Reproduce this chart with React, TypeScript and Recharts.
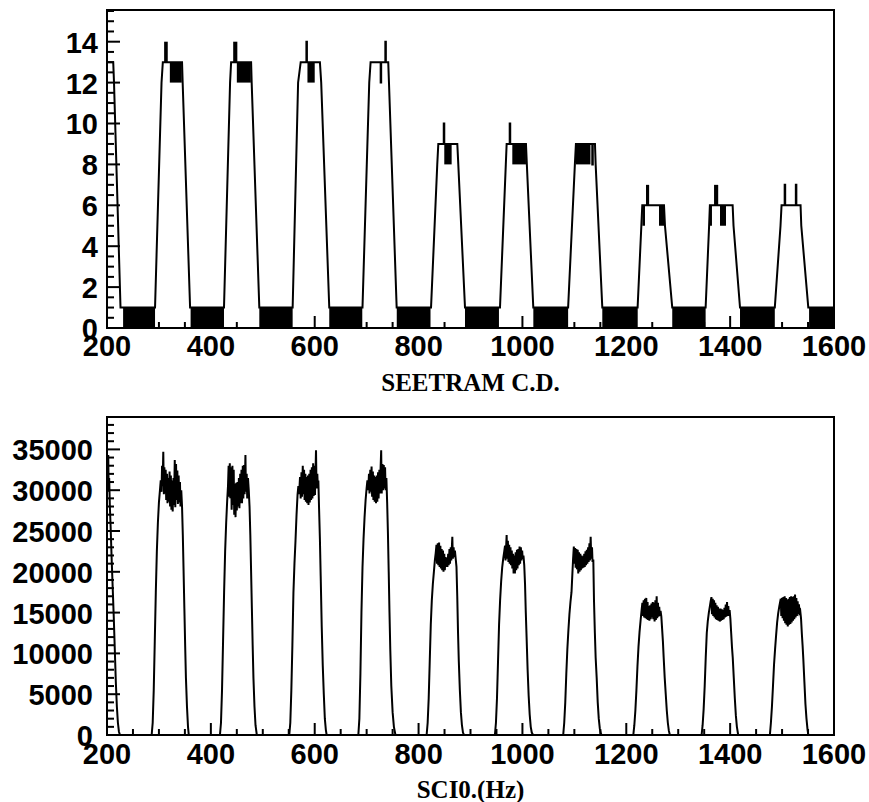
import React from "react";
import { ComposedChart, Line, XAxis, YAxis, ReferenceArea, Label } from "recharts";

// ------------------------------------------------------------
// Beam spill monitor: SEETRAM counts (top) and SCI0 rate (bottom)
// ------------------------------------------------------------

const SANS = "'Liberation Sans', Arial, Helvetica, sans-serif";
const SERIF = "'Liberation Serif', 'Times New Roman', serif";

// shared time axis
const TIME_MIN = 200;
const TIME_MAX = 1600;
const timeLabels = [200, 400, 600, 800, 1000, 1200, 1400, 1600];

// SEETRAM counts per bin, histogram outline [t, count]
const seetramOutline: [number, number][] = [
  [200, 13], [212, 13], [213.5, 12], [226, 1],
  [292.5, 1], [305, 12], [307.5, 13], [344.5, 13], [345.7, 12], [360, 1],
  [425.3, 1], [437, 12], [439, 13], [477.5, 13], [478.6, 12], [493.3, 1],
  [557.5, 1], [568, 12], [573, 13], [584, 13], [584, 14], [585, 14], [585, 13], [610, 13], [612.5, 12], [628, 1],
  [692, 1], [705, 12], [707.6, 13], [727, 13], [727, 12], [728, 12], [728, 13], [736, 13], [736, 14], [737, 14], [737, 13], [741.6, 13], [743, 12], [757.8, 1],
  [824, 1], [836, 8], [838, 9], [848.5, 9], [848.5, 10], [849.5, 10], [849.5, 9], [874.6, 9], [876.5, 8], [889.4, 1],
  [956.8, 1], [968, 8], [969.6, 9], [975.5, 9], [975.5, 10], [976.5, 10], [976.5, 9], [1006.8, 9], [1008.5, 8], [1020.9, 1],
  [1088, 1], [1101, 8], [1103, 9], [1134.5, 9], [1134.5, 8], [1135.5, 8], [1135.5, 9], [1139.7, 9], [1141, 8], [1153.8, 1],
  [1221.8, 1], [1229, 5], [1230.8, 6], [1272.6, 6], [1274.5, 5], [1288.5, 1],
  [1352.8, 1], [1359.5, 5], [1361, 6], [1404.8, 6], [1406.5, 5], [1419, 1],
  [1486, 1], [1497, 5], [1499, 6], [1505, 6], [1505, 7], [1506, 7], [1506, 6], [1526.5, 6], [1526.5, 7], [1527.5, 7], [1527.5, 6], [1535.6, 6], [1537, 5], [1550.5, 1],
  [1600, 1],
];

// stretches where the count flips between two neighbouring values [t1, t2, low, high]
const seetramFlicker: [number, number, number, number][] = [
  [231, 292.5, 0, 1], [361, 425.3, 0, 1], [493.3, 557.5, 0, 1], [628, 691.6, 0, 1],
  [758, 823, 0, 1], [889.4, 954.8, 0, 1], [1021, 1088, 0, 1], [1153.8, 1222, 0, 1],
  [1288.5, 1352.8, 0, 1], [1419, 1486, 0, 1], [1552, 1600, 0, 1],
  [310, 317, 13, 14], [321, 344, 12, 13],
  [443, 451, 13, 14], [450, 477, 12, 13],
  [586, 600, 12, 13],
  [849.5, 863.7, 8, 9],
  [980.5, 1006.8, 8, 9],
  [1103, 1131, 8, 9],
  [1231, 1236, 5, 6], [1238, 1244, 6, 7], [1263, 1273, 5, 6],
  [1361, 1365, 5, 6], [1369, 1377, 6, 7], [1380.5, 1392, 5, 6],
];

const COUNT_MAX = 15.55;
const countLabels = [0, 2, 4, 6, 8, 10, 12, 14];

// SCI0 rate [t, Hz], one list per spill
const sciSpill0: [number, number][] = [
  [200, 30500], [200.8, 33800], [201.6, 29800], [202.4, 34300], [203.2, 30200], [204.2, 31500], [205.5, 28000],
  [207, 25500], [209, 21500], [211, 18000], [213, 14500], [215, 10500], [217, 6500], [219, 3500], [221, 1500], [223, 400], [225, 0],
];
const sciSpill1: [number, number][] = [
  [286, 0], [288, 1500], [290, 5500], [292, 11500], [294, 17500], [296, 22500], [298, 26000], [300, 28500], [302, 30000], [303.5, 31200],
  [305, 29800], [306, 33000], [307, 30500], [308.4, 34700], [309.5, 29500], [310.5, 32800], [311.7, 29600], [313, 32500], [314, 28800],
  [315.5, 32000], [316.5, 28400], [318, 31500], [319, 28600], [320.5, 32300], [321.5, 28000], [323, 31800], [324, 27600], [325.5, 31200],
  [326.5, 27400], [328, 31500], [329, 28200], [330.5, 33700], [331.5, 27900], [333, 33200], [334, 28800], [335.5, 32400], [336.5, 28300],
  [338, 31800], [339, 28500], [340.5, 31000], [341.5, 28000], [343, 30000],
  [344.5, 28000], [346, 24500], [347.5, 20000], [349, 15500], [350.5, 11000], [352, 7000], [354, 3500], [356, 1000], [357.5, 0],
];
const sciSpill2: [number, number][] = [
  [417.5, 0], [419.5, 1500], [421.5, 5500], [423.5, 11500], [425.5, 17500], [427.5, 22500], [429.5, 26000], [431.5, 28800], [433, 30500],
  [434.2, 33000], [435.2, 29200], [436.5, 33300], [437.5, 29000], [439, 32800], [440, 27600], [441.5, 33000], [442.5, 28200], [444, 32500],
  [445, 27000], [446.5, 30800], [447.5, 26700], [449, 30900], [450, 27500], [451.5, 31000], [452.5, 28000], [454, 31500], [455, 27800],
  [456.5, 32000], [457.5, 28400], [459, 32500], [460, 28400], [461.5, 33000], [462.5, 29000], [464, 33100], [465, 29500], [466.6, 34300],
  [467.5, 29800], [469, 32000], [470, 29000], [471.5, 31500], [473, 30000],
  [474.5, 28000], [476, 24500], [477.5, 20000], [479, 15500], [480.5, 11000], [482, 7000], [484, 3500], [486, 1200], [488.5, 0],
];
const sciSpill3: [number, number][] = [
  [551, 0], [553, 1500], [555, 5500], [557, 11000], [559, 17400], [561, 21000], [563, 23800], [565, 27000], [567, 29500], [568.5, 30500],
  [570, 29500], [571.7, 31600], [573, 29000], [574.5, 32200], [575.5, 29200], [577, 33000], [578, 29500], [579.5, 32500], [580.5, 28800],
  [582, 32000], [583, 28600], [584.5, 31600], [585.5, 28400], [587, 31800], [588, 28200], [589.5, 32000], [590.5, 28500], [592, 32500],
  [593, 28800], [594.5, 32800], [595.5, 29000], [597, 33300], [598, 29300], [599.5, 33000], [600.5, 29400], [602.5, 34900], [603.5, 30200],
  [605, 32000], [606, 30400], [607, 31200],
  [608.5, 27500], [610, 24000], [611.5, 19500], [613.5, 13300], [615.5, 8500], [617.5, 5000], [619.5, 2000], [621.5, 600], [623, 0],
];
const sciSpill4: [number, number][] = [
  [684, 0], [686, 2000], [688, 7500], [690, 15000], [692, 20500], [694, 24000], [696, 26700], [698, 28800], [700, 30300], [701.5, 31200],
  [703, 30000], [704.5, 32000], [705.5, 29600], [707, 32500], [708, 29800], [709.5, 32900], [710.5, 29200], [712, 32300], [713, 28800],
  [714.5, 31800], [715.5, 28600], [717, 31600], [718, 28400], [719.5, 31800], [720.5, 28600], [722, 32200], [723, 29000], [724.5, 32500],
  [725.5, 29600], [727, 33000], [728, 34900], [729, 29600], [730.5, 33200], [731.5, 30000], [733, 33100], [734, 30200], [735.5, 32800],
  [736.5, 30000], [738, 31500],
  [739.5, 28500], [741, 24700], [742.5, 20000], [744, 15000], [745.5, 10500], [747.5, 6000], [750, 2800], [752.5, 1000], [755.5, 0],
];
const sciSpill5: [number, number][] = [
  [815.5, 0], [817.5, 1500], [819.5, 4500], [821.5, 9000], [823.5, 13500], [825.5, 16500], [827.5, 18500], [829.5, 20000], [831.5, 21500], [833, 22300],
  [834.5, 23300], [835.5, 21000], [837, 23500], [838, 20800], [839.5, 23600], [840.5, 20600], [842, 23200], [843, 20400], [844.5, 22800],
  [845.5, 20200], [847, 22600], [848, 20000], [849.5, 22200], [850.5, 20200], [852, 21800], [853, 20600], [854.5, 21700], [855.5, 20600],
  [857, 22200], [858, 20800], [859.5, 22800], [860.5, 21000], [862, 23000], [863, 21400], [865, 24300], [866, 21600], [867.5, 23000],
  [868.5, 21800], [870, 22600], [871.5, 21600],
  [873, 20600], [874.5, 17000], [876, 12500], [877.5, 9000], [879.5, 5500], [881.5, 2800], [883.5, 1200], [885.5, 300], [887.5, 0],
];
const sciSpill6: [number, number][] = [
  [947, 0], [949, 1500], [951, 4500], [953, 9000], [955, 13500], [957, 16500], [959, 18800], [961, 20500], [963, 21600], [965, 22500],
  [966.5, 23200], [967.5, 21400], [969.6, 24500], [970.5, 21600], [972, 23800], [973, 21200], [974.5, 23300], [975.5, 21000], [977, 23000],
  [978, 20800], [979.5, 22600], [980.5, 20400], [982, 22200], [983, 19800], [984.5, 22000], [985.5, 19800], [987, 22400], [988, 20200],
  [989.5, 22700], [990.5, 20400], [992, 22800], [993, 20800], [994.5, 23100], [995.5, 21000], [997, 23000], [998, 21400], [999.5, 22600],
  [1000.5, 21600], [1002, 22000],
  [1003.5, 20800], [1005, 18500], [1006.5, 15000], [1008, 12000], [1010, 8000], [1012, 4800], [1014, 2500], [1016, 1000], [1018, 300], [1020.5, 0],
];
const sciSpill7: [number, number][] = [
  [1078.5, 0], [1080.5, 1500], [1082.5, 4000], [1084.5, 7500], [1086.5, 10500], [1088.5, 12800], [1090.5, 14800], [1092.5, 16300],
  [1094.5, 17500], [1096, 19500], [1097.5, 21500],
  [1099, 23100], [1100, 21000], [1101.5, 22900], [1102.5, 20500], [1104, 22800], [1105, 20300], [1106.5, 22700], [1107.5, 19800],
  [1109, 22400], [1110, 20000], [1111.5, 22200], [1112.5, 20200], [1114, 22000], [1115, 20400], [1116.5, 21900], [1117.5, 20500],
  [1119, 22200], [1120, 20600], [1121.5, 22500], [1122.5, 20800], [1124, 22700], [1125, 21000], [1126.5, 23000], [1127.5, 21200],
  [1129, 23500], [1130, 21400], [1131.4, 24300], [1132.5, 21600], [1134, 23000], [1135, 21200], [1136.5, 21500],
  [1137.8, 16500], [1139.5, 12500], [1141, 9500], [1143, 7000], [1145, 4000], [1147, 2000], [1149, 800], [1151, 200], [1152.5, 0],
];
const sciSpill8: [number, number][] = [
  [1213.5, 0], [1215.5, 1200], [1217.5, 3000], [1219.5, 5500], [1221.5, 8400], [1223.5, 10800], [1225.5, 12600], [1227.5, 14000], [1229.5, 15300],
  [1231, 16200], [1232, 14600], [1233.5, 16500], [1234.5, 14400], [1236, 16700], [1237, 14300], [1238.5, 16800], [1239.5, 14200],
  [1241, 16300], [1242, 14100], [1243.5, 15800], [1244.5, 14000], [1246, 15900], [1247, 14200], [1248.5, 16100], [1249.5, 14400],
  [1251, 16300], [1252, 14200], [1253.5, 16200], [1254.5, 13900], [1256, 16500], [1257, 14100], [1258.5, 17000], [1259.5, 14300],
  [1261, 16200], [1262, 14500], [1263.5, 15700], [1264.5, 14600], [1266, 15200],
  [1267.5, 14500], [1269, 13000], [1270.5, 11500], [1272, 9500], [1274, 7000], [1276, 5000], [1278, 3000], [1280, 1500], [1282, 500], [1284, 0],
];
const sciSpill9: [number, number][] = [
  [1345, 0], [1347, 1200], [1349, 3200], [1351, 6000], [1353, 9500], [1355, 12500], [1357, 14000], [1359, 15000], [1361, 15800], [1362.5, 16400],
  [1364, 16900], [1365, 14800], [1366.5, 16700], [1367.5, 14600], [1369, 16500], [1370, 14400], [1371.5, 16200], [1372.5, 14200],
  [1374, 15900], [1375, 14100], [1376.5, 15700], [1377.5, 14000], [1379, 15500], [1380, 13900], [1381.5, 15500], [1382.5, 14000],
  [1384, 15400], [1385, 14100], [1386.5, 15300], [1387.5, 14200], [1389, 15600], [1390, 14400], [1391.5, 16000], [1392.5, 14500],
  [1394, 16300], [1395, 14600], [1396.5, 15800], [1397.5, 14600], [1399, 15300],
  [1400.5, 14200], [1402, 12500], [1403.5, 10800], [1405, 9500], [1407, 7000], [1409, 4500], [1411, 2400], [1413, 1000], [1415.5, 0],
];
const sciSpill10: [number, number][] = [
  [1476.5, 0], [1478.5, 1500], [1480.5, 3500], [1482.5, 6000], [1484.5, 8600], [1486.5, 10500], [1488.5, 12200], [1490.5, 13800],
  [1492.5, 14900], [1494.5, 15700], [1496, 16200],
  [1497.5, 16700], [1498.5, 14600], [1500, 16800], [1501, 14300], [1502.5, 16900], [1503.5, 14000], [1505, 17000], [1506, 13700],
  [1507.5, 16800], [1508.5, 13500], [1510, 16600], [1511, 13300], [1512.5, 16700], [1513.5, 13500], [1515, 16900], [1516, 13600],
  [1517.5, 17000], [1518.5, 13800], [1520, 16900], [1521, 14000], [1522.5, 17000], [1523.5, 14200], [1525, 17200], [1526, 14400],
  [1527.5, 16800], [1528.5, 14600], [1530, 16400], [1531, 14800], [1532.5, 16000], [1533.5, 15000], [1535, 15200],
  [1536.5, 14300], [1538, 12500], [1539.5, 11000], [1541, 9200], [1543, 6500], [1545, 3800], [1547, 2000], [1549, 700], [1550.5, 0],
  [1600, 0],
];

const RATE_MAX = 38970;
const rateLabels = [0, 5000, 10000, 15000, 20000, 25000, 30000, 35000];

const steps = (from: number, to: number, step: number) => {
  const out: number[] = [];
  for (let v = from; v <= to + 1e-9; v += step) out.push(v);
  return out;
};

const timeTicks = steps(TIME_MIN, TIME_MAX, 50);
const countTicks = steps(0, 15.5, 0.5);
const rateTicks = steps(0, 38000, 1000);

const countData = seetramOutline.map(([t, n]) => ({ t, n }));
const rateData = [
  sciSpill0, sciSpill1, sciSpill2, sciSpill3, sciSpill4, sciSpill5,
  sciSpill6, sciSpill7, sciSpill8, sciSpill9, sciSpill10,
].flat().map(([t, hz]) => ({ t, hz }));

const LABEL_SIZE = 29;

// ticks point into the frame, as in the usual histogram style
function TimeTick({ x, y, payload, gap }: any) {
  const major = timeLabels.includes(payload.value);
  return (
    <g>
      <line x1={x} x2={x} y1={y} y2={y - (major ? 12 : 6)} stroke="#000" strokeWidth={2} />
      {major && (
        <text x={x} y={y + gap} textAnchor="middle" fontFamily={SANS} fontWeight="bold" fontSize={LABEL_SIZE} fill="#000">
          {payload.value}
        </text>
      )}
    </g>
  );
}

function ValueTick({ x, y, payload, labels, gap }: any) {
  const major = labels.includes(payload.value);
  return (
    <g>
      <line x1={x} x2={x + (major ? 13 : 7)} y1={y} y2={y} stroke="#000" strokeWidth={2} />
      {major && (
        <text x={x - gap} y={y + 11} textAnchor="end" fontFamily={SANS} fontWeight="bold" fontSize={LABEL_SIZE} fill="#000">
          {payload.value}
        </text>
      )}
    </g>
  );
}

export default function App() {
  return (
    <div style={{ position: "absolute", left: 0, top: 0, width: 869, height: 802, background: "#fff" }}>
      <ComposedChart width={869} height={400} margin={{ top: 10, right: 35, bottom: 0, left: 0 }}>
        <XAxis
          dataKey="t"
          type="number"
          domain={[TIME_MIN, TIME_MAX]}
          allowDataOverflow
          ticks={timeTicks}
          interval={0}
          tickSize={0}
          tickMargin={0}
          axisLine={false}
          tickLine={false}
          height={72}
          tick={(p: any) => <TimeTick {...p} gap={28} />}
        >
          <Label value="SEETRAM C.D." position="insideBottom" offset={9} fontFamily={SERIF} fontWeight="bold" fontSize={25} fill="#000" />
        </XAxis>
        <YAxis
          type="number"
          domain={[0, COUNT_MAX]}
          allowDataOverflow
          ticks={countTicks}
          interval={0}
          tickSize={0}
          tickMargin={0}
          axisLine={false}
          tickLine={false}
          width={107}
          tick={(p: any) => <ValueTick {...p} labels={countLabels} gap={9} />}
        />
        {seetramFlicker.map(([t1, t2, lo, hi], i) => (
          <ReferenceArea key={i} x1={t1} x2={t2} y1={lo} y2={hi} fill="#000" fillOpacity={1} stroke="none" />
        ))}
        <Line
          data={countData}
          dataKey="n"
          type="linear"
          stroke="#000"
          strokeWidth={2}
          dot={false}
          activeDot={false}
          isAnimationActive={false}
        />
        <ReferenceArea x1={TIME_MIN} x2={TIME_MAX} y1={0} y2={COUNT_MAX} fill="none" stroke="#000" strokeWidth={2} />
      </ComposedChart>

      <ComposedChart width={869} height={402} margin={{ top: 17, right: 35, bottom: 0, left: 0 }}>
        <XAxis
          dataKey="t"
          type="number"
          domain={[TIME_MIN, TIME_MAX]}
          allowDataOverflow
          ticks={timeTicks}
          interval={0}
          tickSize={0}
          tickMargin={0}
          axisLine={false}
          tickLine={false}
          height={67}
          tick={(p: any) => <TimeTick {...p} gap={29} />}
        >
          <Label value="SCI0.(Hz)" position="insideBottom" offset={4} fontFamily={SERIF} fontWeight="bold" fontSize={25} fill="#000" />
        </XAxis>
        <YAxis
          type="number"
          domain={[0, RATE_MAX]}
          allowDataOverflow
          ticks={rateTicks}
          interval={0}
          tickSize={0}
          tickMargin={0}
          axisLine={false}
          tickLine={false}
          width={107}
          tick={(p: any) => <ValueTick {...p} labels={rateLabels} gap={14} />}
        />
        <Line
          data={rateData}
          dataKey="hz"
          type="linear"
          stroke="#000"
          strokeWidth={2}
          dot={false}
          activeDot={false}
          isAnimationActive={false}
        />
        <ReferenceArea x1={TIME_MIN} x2={TIME_MAX} y1={0} y2={RATE_MAX} fill="none" stroke="#000" strokeWidth={2} />
      </ComposedChart>
    </div>
  );
}
